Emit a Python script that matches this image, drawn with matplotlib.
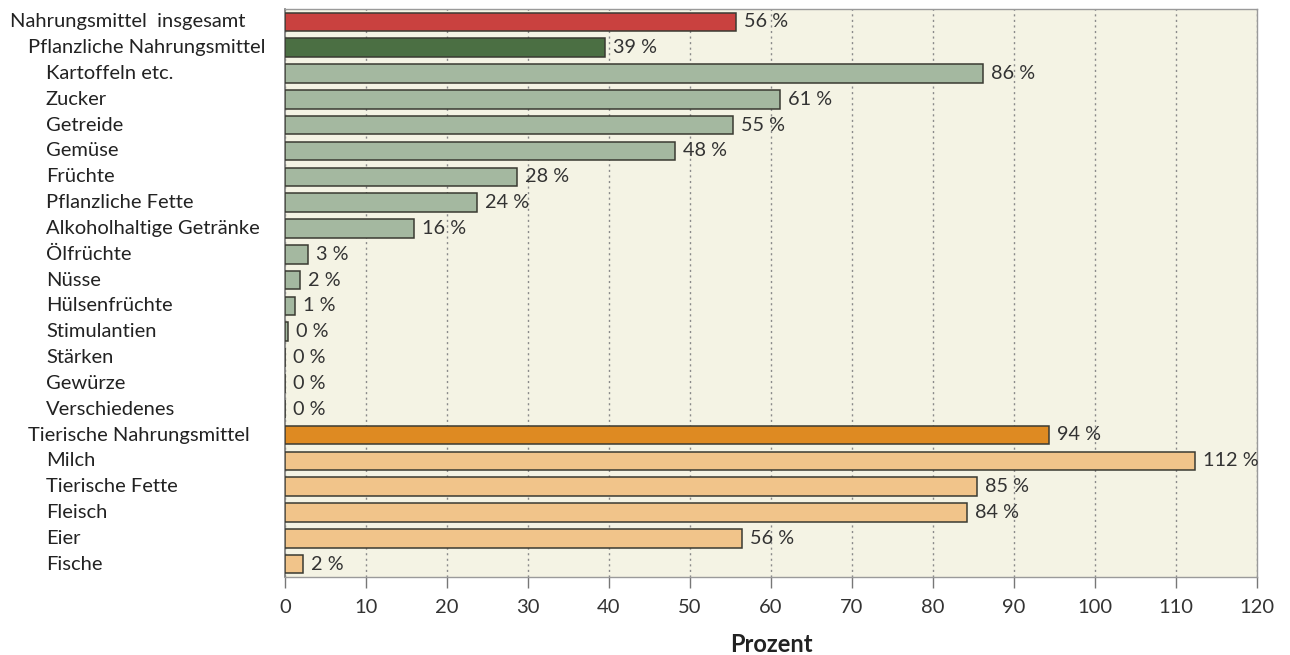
import matplotlib
matplotlib.use("Agg")
import matplotlib.pyplot as plt
from matplotlib.transforms import blended_transform_factory

categories = ["Nahrungsmittel  insgesamt", "Pflanzliche Nahrungsmittel", "Kartoffeln etc.", "Zucker",
              "Getreide", "Gemüse", "Früchte", "Pflanzliche Fette", "Alkoholhaltige Getränke",
              "Ölfrüchte", "Nüsse", "Hülsenfrüchte", "Stimulantien", "Stärken", "Gewürze",
              "Verschiedenes", "Tierische Nahrungsmittel", "Milch", "Tierische Fette", "Fleisch",
              "Eier", "Fische"]
values = [55.7, 39.5, 86.2, 61.1, 55.3, 48.1, 28.6, 23.7, 15.9, 2.8, 1.9, 1.2, 0.4, 0, 0, 0,
          94.3, 112.3, 85.4, 84.2, 56.4, 2.2]
value_labels = ["56 %", "39 %", "86 %", "61 %", "55 %", "48 %", "28 %", "24 %", "16 %", "3 %",
                "2 %", "1 %", "0 %", "0 %", "0 %", "0 %", "94 %", "112 %", "85 %", "84 %",
                "56 %", "2 %"]
levels = [0, 1, 2, 2, 2, 2, 2, 2, 2, 2, 2, 2, 2, 2, 2, 2, 1, 2, 2, 2, 2, 2]
groups = ["total", "plant_total", "plant", "plant", "plant", "plant", "plant", "plant", "plant",
          "plant", "plant", "plant", "plant", "plant", "plant", "plant", "animal_total",
          "animal", "animal", "animal", "animal", "animal"]
xticks = list(range(0, 121, 10))

colors = {"total": "#C9413F", "plant_total": "#4B6F43", "plant": "#A4B8A0",
          "animal_total": "#DE8A22", "animal": "#F1C48A"}

plt.rcParams['font.family'] = ['Lato', 'DejaVu Sans']
fig = plt.figure(figsize=(12.9, 6.55), dpi=100)
ax = fig.add_axes([285/1290, 1-577/655, (1257-285)/1290, (577-9)/655])
ax.set_facecolor("#F4F3E4")

ypos = list(range(len(categories)))
ax.barh(ypos, values, height=0.72, color=[colors[g] for g in groups],
        edgecolor="#3a3a32", linewidth=1.1, zorder=3)

for y, v, lab in zip(ypos, values, value_labels):
    ax.text(v + 1.0, y, lab, va="center", ha="left", fontsize=14.3, color="#333333", zorder=4)

trans = blended_transform_factory(fig.transFigure, ax.transData)
for y, cat, lev in zip(ypos, categories, levels):
    ax.text((10 + 18*lev)/1290, y, cat, transform=trans, va="center", ha="left",
            fontsize=14.5, color="#222222")

ax.set_ylim(len(categories)-0.5, -0.5)
ax.set_xlim(0, 120)
ax.set_yticks([])
ax.set_xticks(xticks)
ax.set_xticklabels([str(t) for t in xticks], fontsize=14.5, color="#333333")
ax.tick_params(axis="x", direction="out", length=8, width=1, color="#777777", pad=8)
ax.xaxis.grid(True, linestyle=(0, (1.5, 2.5)), color="#8a8a8a", linewidth=1.0, zorder=1)
ax.set_axisbelow(True)
for side in ["top", "right", "bottom"]:
    ax.spines[side].set_color("#9a9a9a")
    ax.spines[side].set_linewidth(1.0)
ax.spines["left"].set_color("#777777")
ax.spines["left"].set_linewidth(1.2)

ax.set_xlabel("Prozent", fontsize=17, fontweight="bold", color="#222222", labelpad=12)

fig.savefig("out.png", dpi=100, facecolor="white")
